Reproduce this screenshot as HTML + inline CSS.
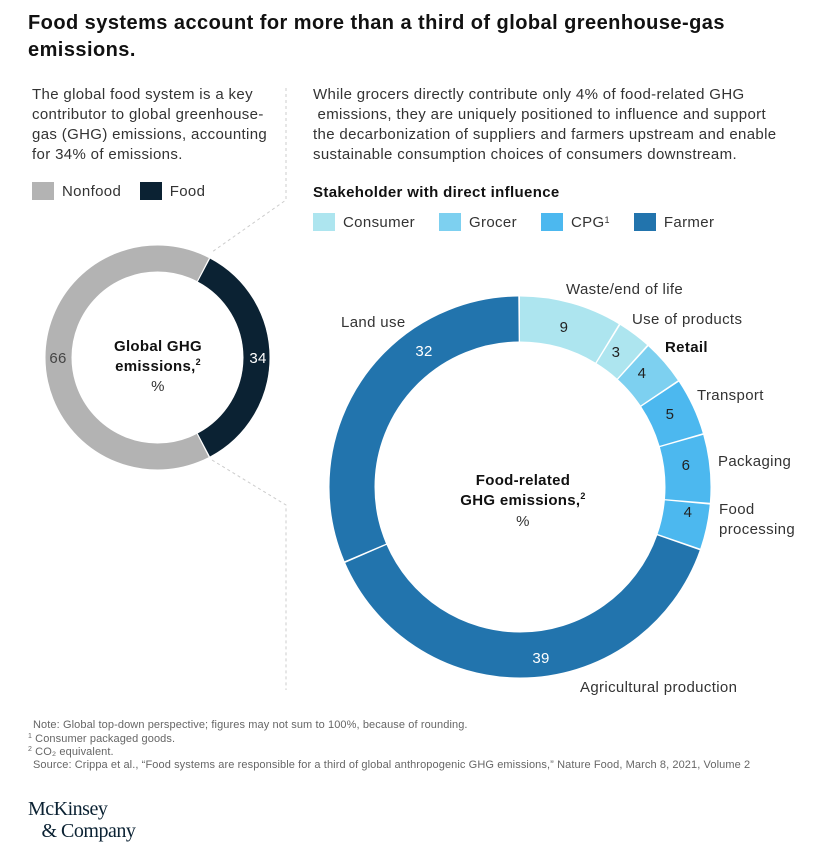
<!DOCTYPE html>
<html><head><meta charset="utf-8"><style>
body{margin:0;width:814px;height:850px;background:#fff;font-family:"Liberation Sans",sans-serif;color:#222;position:relative;overflow:hidden}
.a{position:absolute;white-space:nowrap}
.t{font-size:15px;line-height:20px;color:#333;letter-spacing:0.35px}
.sw{display:inline-block;width:22px;height:18px;vertical-align:-4px;margin-right:8px}
.fn{font-size:11px;line-height:13px;color:#666;letter-spacing:0.1px}
.s{font-size:7px;position:relative;top:-4px}
</style></head><body>
<div class="a" style="left:28px;top:10px;font-size:20px;font-weight:bold;line-height:27px;color:#111;letter-spacing:0.45px">Food systems account for more than a third of global greenhouse-gas<br>emissions.</div>
<div class="a t" style="left:32px;top:85px">The global food system is a key<br>contributor to global greenhouse-<br>gas (GHG) emissions, accounting<br>for 34% of emissions.</div>
<div class="a t" style="left:32px;top:182px"><span class="sw" style="background:#b3b3b3"></span>Nonfood <span class="sw" style="background:#0b2233;margin-left:14px"></span>Food</div>
<div class="a t" style="left:313px;top:85px">While grocers directly contribute only 4% of food-related GHG<br>&nbsp;emissions, they are uniquely positioned to influence and support<br>the decarbonization of suppliers and farmers upstream and enable<br>sustainable consumption choices of consumers downstream.</div>
<div class="a t" style="left:313px;top:183px;font-weight:bold;color:#111">Stakeholder with direct influence</div>
<div class="a t" style="left:313px;top:213px"><span class="sw" style="background:#ade5ef"></span>Consumer<span class="sw" style="background:#7dd0f0;margin-left:24px"></span>Grocer<span class="sw" style="background:#4cb8ef;margin-left:24px"></span>CPG<span class="s" style="font-size:9px">1</span><span class="sw" style="background:#2274ad;margin-left:24px"></span>Farmer</div>
<svg class="a" style="left:0;top:0" width="814" height="850">
<g stroke="#ccc" stroke-dasharray="3,3" fill="none" stroke-width="1">
<path d="M286 88 V200 L212 252"/><path d="M212 460 L286 505 V690"/>
</g>
<g transform="rotate(-90 157.5 357.5)" fill="none" stroke-width="26">
<circle cx="157.5" cy="357.5" r="99" pathLength="100" stroke="#b3b3b3"/>
<circle cx="157.5" cy="357.5" r="99" pathLength="100" stroke="#0b2233" stroke-dasharray="34.6 100" stroke-dashoffset="-7.7"/>
<circle cx="157.5" cy="357.5" r="99" pathLength="100" stroke="#fff" stroke-dasharray="0.2 100" stroke-dashoffset="-7.6"/>
<circle cx="157.5" cy="357.5" r="99" pathLength="100" stroke="#fff" stroke-dasharray="0.2 100" stroke-dashoffset="-42.3"/>
</g>
<g transform="rotate(-90 520 487)" fill="none" stroke-width="45">
<circle cx="520" cy="487" r="168" pathLength="102" stroke="#ade5ef" stroke-dasharray="8.85 200" stroke-dashoffset="0"/>
<circle cx="520" cy="487" r="168" pathLength="102" stroke="#ade5ef" stroke-dasharray="2.85 200" stroke-dashoffset="-9"/>
<circle cx="520" cy="487" r="168" pathLength="102" stroke="#7dd0f0" stroke-dasharray="3.85 200" stroke-dashoffset="-12"/>
<circle cx="520" cy="487" r="168" pathLength="102" stroke="#4cb8ef" stroke-dasharray="4.85 200" stroke-dashoffset="-16"/>
<circle cx="520" cy="487" r="168" pathLength="102" stroke="#4cb8ef" stroke-dasharray="5.85 200" stroke-dashoffset="-21"/>
<circle cx="520" cy="487" r="168" pathLength="102" stroke="#4cb8ef" stroke-dasharray="3.85 200" stroke-dashoffset="-27"/>
<circle cx="520" cy="487" r="168" pathLength="102" stroke="#2274ad" stroke-dasharray="38.85 200" stroke-dashoffset="-31"/>
<circle cx="520" cy="487" r="168" pathLength="102" stroke="#2274ad" stroke-dasharray="31.85 200" stroke-dashoffset="-70"/>
</g>
<g font-size="15" font-family="Liberation Sans, sans-serif" text-anchor="middle" letter-spacing="0.3">
<text x="58" y="363" fill="#444">66</text>
<text x="258" y="363" fill="#fff">34</text>
<text x="158" y="351" font-weight="bold" fill="#111">Global GHG</text>
<text x="158" y="371" font-weight="bold" fill="#111">emissions,<tspan font-size="9" dy="-6">2</tspan></text>
<text x="158" y="391" fill="#333">%</text>
<text x="564" y="332" fill="#222">9</text>
<text x="616" y="357" fill="#222">3</text>
<text x="642" y="378" fill="#222">4</text>
<text x="670" y="419" fill="#222">5</text>
<text x="686" y="470" fill="#222">6</text>
<text x="688" y="517" fill="#222">4</text>
<text x="424" y="356" fill="#fff">32</text>
<text x="541" y="663" fill="#fff">39</text>
<text x="523" y="485" font-weight="bold" fill="#111">Food-related</text>
<text x="523" y="505" font-weight="bold" fill="#111">GHG emissions,<tspan font-size="9" dy="-6">2</tspan></text>
<text x="523" y="526" fill="#333">%</text>
</g>
<g font-size="15" font-family="Liberation Sans, sans-serif" fill="#333" letter-spacing="0.35">
<text x="566" y="294">Waste/end of life</text>
<text x="632" y="324">Use of products</text>
<text x="665" y="352" font-weight="bold" fill="#111">Retail</text>
<text x="697" y="400">Transport</text>
<text x="718" y="466">Packaging</text>
<text x="719" y="514">Food</text>
<text x="719" y="534">processing</text>
<text x="341" y="327">Land use</text>
<text x="580" y="692">Agricultural production</text>
</g>
</svg>
<div class="a fn" style="left:33px;top:719px">Note: Global top-down perspective; figures may not sum to 100%, because of rounding.</div>
<div class="a fn" style="left:28px;top:733px"><span class="s">1</span> Consumer packaged goods.</div>
<div class="a fn" style="left:28px;top:746px"><span class="s">2</span> CO₂ equivalent.</div>
<div class="a fn" style="left:33px;top:759px">Source: Crippa et al., “Food systems are responsible for a third of global anthropogenic GHG emissions,” Nature Food, March 8, 2021, Volume 2</div>
<div class="a" style="left:28px;top:798px;font-family:'Liberation Serif',serif;font-size:20px;line-height:22px;color:#0b2233;letter-spacing:-0.5px">McKinsey<br>&nbsp;&nbsp;&nbsp;&amp; Company</div>
</body></html>
